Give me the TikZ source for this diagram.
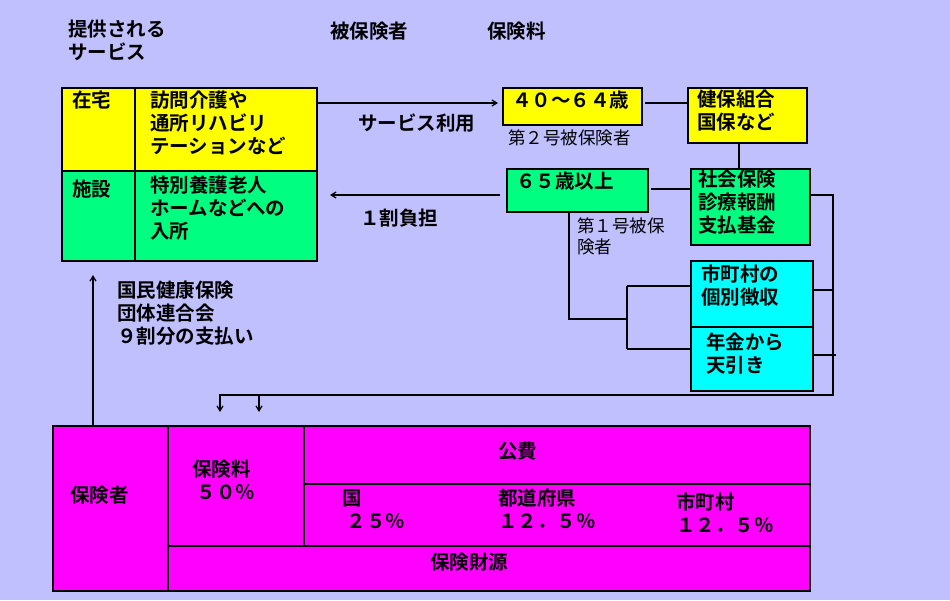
\documentclass[tikz,border=0pt]{standalone}
\usepackage{fontspec}
\usetikzlibrary{arrows.meta}
\setmainfont{Noto Sans CJK JP}
\newfontfamily\jb{Noto Sans CJK JP Bold}
\definecolor{bg}{RGB}{192,192,255}
\definecolor{yel}{RGB}{255,255,0}
\definecolor{grn}{RGB}{0,255,128}
\definecolor{cyn}{RGB}{0,255,255}
\definecolor{mag}{RGB}{255,0,255}
\begin{document}
\begin{tikzpicture}[x=1pt,y=-1pt,
  bx/.style={draw=black,line width=1.5pt,anchor=north west,inner sep=0pt},
  tx/.style={anchor=north west,inner sep=0pt,align=left,font=\jb\fontsize{19.5}{23}\selectfont},
  tn/.style={anchor=north west,inner sep=0pt,align=left,font=\fontsize{17.5}{21}\selectfont},
  ln/.style={line width=1.5pt},
  ar/.style={line width=1.2pt,-{Straight Barb[length=5pt,width=6pt]}}]
\fill[bg] (0,0) rectangle (950,600);
\useasboundingbox (0,0) rectangle (950,600);
% top labels
\node[tx] (h1) at (68,20) {提供される\\サービス};
\node[tx] (h2) at (330,22) {被保険者};
\node[tx] (h3) at (487,22) {保険料};
% left box
\node[bx,fill=yel,minimum width=73pt,minimum height=83pt] (zt) at (61,87) {};
\node[bx,fill=yel,minimum width=182pt,minimum height=83pt] (zr) at (134,87) {};
\node[bx,fill=grn,minimum width=73pt,minimum height=90pt] (st) at (61,170) {};
\node[bx,fill=grn,minimum width=182pt,minimum height=90pt] (sr) at (134,170) {};
\node[tx] at (72,91) {在宅};
\node[tx] at (150,91) {訪問介護や\\通所リハビリ\\テーションなど};
\node[tx] at (72,180) {施設};
\node[tx] at (150,176) {特別養護老人\\ホームなどへの\\入所};
% middle
\node[bx,fill=yel,minimum width=139pt,minimum height=37pt] (a40) at (502,87) {};
\node[tx] at (512,91) {４０～６４歳};
\node[tn] at (508,130) {第２号被保険者};
\node[bx,fill=grn,minimum width=141pt,minimum height=43pt] (a65) at (506,168) {};
\node[tx] at (516,172) {６５歳以上};
\node[tn] at (577,218) {第１号被保\\険者};
\node[bx,fill=yel,minimum width=119pt,minimum height=55pt] (kp) at (687,87) {};
\node[tx] at (697,90) {健保組合\\国保など};
\node[bx,fill=grn,minimum width=119pt,minimum height=76pt] (sh) at (690,168) {};
\node[tx] at (698,170) {社会保険\\診療報酬\\支払基金};
\node[bx,fill=cyn,minimum width=122pt,minimum height=66pt] (ci) at (690,260) {};
\node[tx] at (701,265) {市町村の\\個別徴収};
\node[bx,fill=cyn,minimum width=122pt,minimum height=64pt] (nk) at (690,326) {};
\node[tx] at (706,333) {年金から\\天引き};
% arrows and labels
\coordinate (s1) at (318,103); \coordinate (e1) at (498,103);
\draw[ar] (s1) -- (e1);
\node[tx] at (358,114) {サービス利用};
\coordinate (s2) at (500,195); \coordinate (e2) at (330,195);
\draw[ar] (s2) -- (e2);
\node[tx] at (360,209) {１割負担};
\draw[ln] (645,103) -- (kp.west |- 0,103);
\draw[ln] (kp.south -| 739,0) -- (sh.north -| 739,0);
\draw[ln] (651,189) -- (sh.west |- 0,189);
\draw[ln] (a65.south -| 569,0) -- (569,319) -- (627,319);
\draw[ln] (627,286) -- (627,349);
\draw[ln] (627,286) -- (ci.west |- 0,286);
\draw[ln] (627,349) -- (nk.west |- 0,349);
\draw[ln] (sh.east |- 0,195) -- (833,195) -- (833,395) -- (220,395) -- (220,398);
\draw[ln] (ci.east |- 0,290) -- (833,290);
\draw[ln] (nk.east |- 0,355) -- (836,355);
\coordinate (d1) at (220,412); \coordinate (d2) at (259,412);
\draw[ar] (220,395) -- (d1);
\draw[ar] (259,395) -- (d2);
% bottom
\node[bx,fill=mag,minimum width=115pt,minimum height=165pt] (hk) at (52,425) {};
\node[tx] at (70,486) {保険者};
\node[bx,fill=mag,minimum width=136pt,minimum height=120pt] (hr) at (167,425) {};
\node[tx] at (192,460) {保険料\\\ ５０％};
\node[bx,fill=mag,minimum width=506pt,minimum height=58pt] (kh) at (303,425) {};
\node[tx] at (498,442) {公費};
\node[bx,fill=mag,minimum width=506pt,minimum height=62pt] (kk) at (303,483) {};
\node[tx] at (342,489) {国\\\ ２５％};
\node[tx] at (498,489) {都道府県\\１２．５％};
\node[tx] at (676,493) {市町村\\１２．５％};
\node[bx,fill=mag,minimum width=642pt,minimum height=45pt] (zg) at (167,545) {};
\node[tx] at (430,553) {保険財源};
\coordinate (u1) at (93,275);
\draw[ar] (hk.north -| 93,0) -- (u1);
\node[tx] at (117,281) {国民健康保険\\団体連合会\\９割分の支払い};
\end{tikzpicture}
\end{document}
